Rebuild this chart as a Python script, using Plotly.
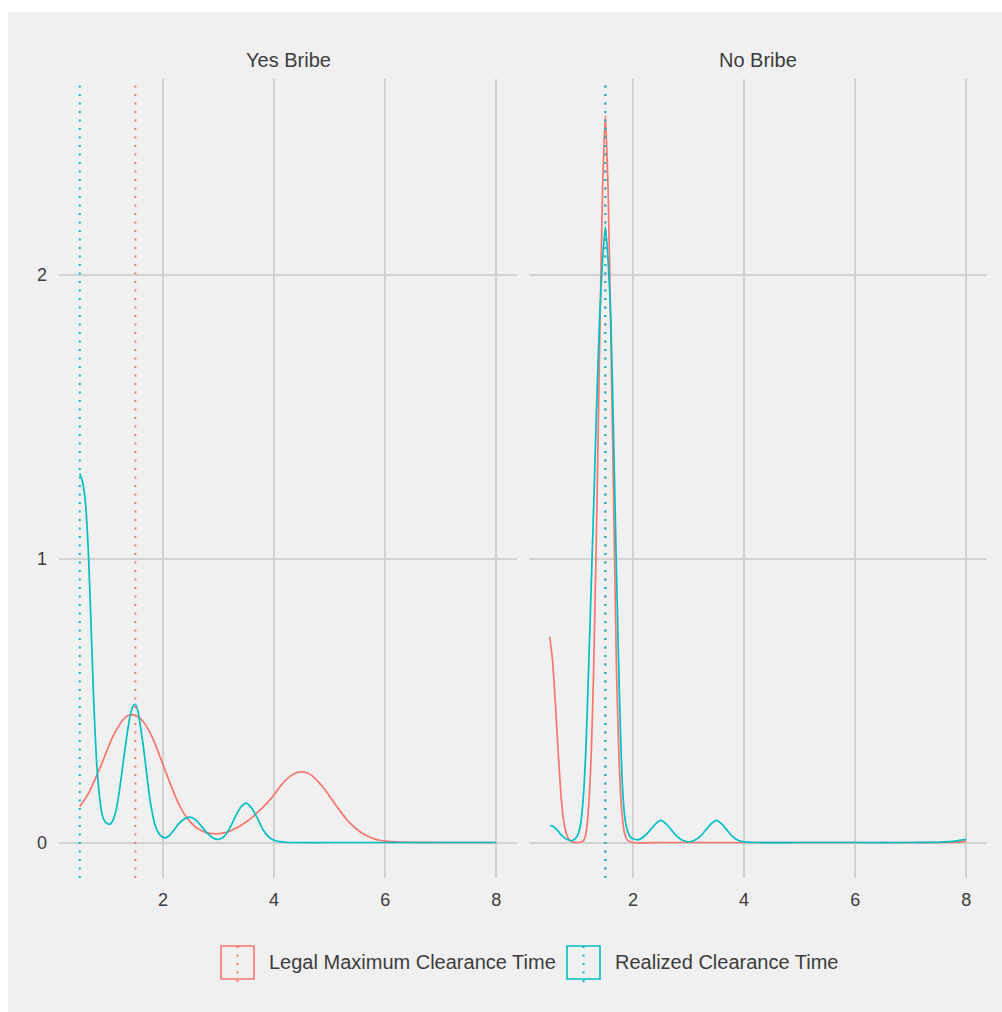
import plotly.graph_objects as go

# ---- density curves: clearance time (x) vs density (y) ----
# Panel "Yes Bribe"
yes_legal_x = [0.5, 0.6, 0.7, 0.8, 0.9, 1.0, 1.1, 1.2, 1.3, 1.4, 1.5, 1.6, 1.7, 1.8, 1.9,
               2.0, 2.1, 2.2, 2.3, 2.4, 2.5, 2.6, 2.7, 2.8, 2.9, 3.0, 3.1, 3.2, 3.3, 3.4,
               3.5, 3.6, 3.7, 3.8, 3.9, 4.0, 4.1, 4.2, 4.3, 4.4, 4.5, 4.6, 4.7, 4.8, 4.9,
               5.0, 5.1, 5.2, 5.3, 5.4, 5.5, 5.6, 5.7, 5.8, 5.9, 6.0, 6.2, 6.5, 7.0, 7.5, 8.0]
yes_legal_y = [0.127, 0.155, 0.19, 0.235, 0.28, 0.33, 0.375, 0.41, 0.437, 0.45, 0.448, 0.435,
               0.41, 0.373, 0.325, 0.273, 0.222, 0.172, 0.128, 0.095, 0.07, 0.052, 0.041,
               0.034, 0.031, 0.031, 0.034, 0.04, 0.049, 0.06, 0.073, 0.088, 0.106, 0.125,
               0.145, 0.168, 0.195, 0.218, 0.235, 0.246, 0.249, 0.245, 0.233, 0.213, 0.19,
               0.163, 0.135, 0.108, 0.083, 0.062, 0.045, 0.031, 0.021, 0.013, 0.008, 0.005,
               0.002, 0.0005, 0.0, 0.0, 0.0]

yes_real_x = [0.5, 0.55, 0.6, 0.65, 0.7, 0.75, 0.8, 0.85, 0.9, 0.95, 1.0, 1.05, 1.1, 1.15,
              1.2, 1.25, 1.3, 1.35, 1.4, 1.45, 1.5, 1.55, 1.6, 1.65, 1.7, 1.75, 1.8, 1.85,
              1.9, 1.95, 2.0, 2.05, 2.1, 2.2, 2.3, 2.4, 2.5, 2.6, 2.7, 2.8, 2.9, 3.0, 3.1,
              3.2, 3.3, 3.4, 3.5, 3.6, 3.7, 3.8, 3.9, 4.0, 4.1, 4.2, 4.4, 5.0, 6.0, 7.0, 8.0]
yes_real_y = [1.30, 1.27, 1.20, 1.04, 0.78, 0.50, 0.29, 0.17, 0.10, 0.075, 0.066, 0.065,
              0.08, 0.11, 0.165, 0.235, 0.31, 0.38, 0.44, 0.478, 0.487, 0.46, 0.40, 0.33,
              0.25, 0.17, 0.11, 0.065, 0.04, 0.025, 0.018, 0.017, 0.022, 0.045, 0.07, 0.085,
              0.089, 0.078, 0.055, 0.032, 0.016, 0.011, 0.022, 0.05, 0.09, 0.125, 0.139,
              0.12, 0.085, 0.045, 0.02, 0.008, 0.003, 0.001, 0.0, 0.0, 0.0, 0.0, 0.0]

# Panel "No Bribe"
no_legal_x = [0.5, 0.55, 0.6, 0.65, 0.7, 0.75, 0.8, 0.85, 0.9, 1.0, 1.1, 1.15, 1.2, 1.25,
              1.3, 1.35, 1.4, 1.45, 1.5, 1.55, 1.6, 1.65, 1.7, 1.75, 1.8, 1.85, 1.9, 2.0,
              2.5, 3.0, 4.0, 5.0, 6.0, 7.0, 7.5, 7.7, 7.9, 8.0]
no_legal_y = [0.725, 0.64, 0.49, 0.32, 0.17, 0.075, 0.03, 0.01, 0.003, 0.0, 0.005, 0.03,
              0.13, 0.33, 0.70, 1.2, 1.78, 2.3, 2.56, 2.3, 1.78, 1.2, 0.62, 0.28, 0.1, 0.03,
              0.008, 0.0, 0.0, 0.0, 0.0, 0.0, 0.0, 0.0, 0.0, 0.0005, 0.002, 0.004]

no_real_x = [0.5, 0.55, 0.6, 0.65, 0.7, 0.75, 0.8, 0.85, 0.9, 0.95, 1.0, 1.05, 1.1, 1.15,
             1.2, 1.25, 1.3, 1.35, 1.4, 1.45, 1.5, 1.55, 1.6, 1.65, 1.7, 1.75, 1.8, 1.85,
             1.9, 1.95, 2.0, 2.1, 2.2, 2.3, 2.4, 2.5, 2.6, 2.7, 2.8, 2.9, 3.0, 3.1, 3.2,
             3.3, 3.4, 3.5, 3.6, 3.7, 3.8, 3.9, 4.0, 4.2, 5.0, 6.0, 7.0, 7.3, 7.5, 7.7,
             7.8, 7.9, 8.0]
no_real_y = [0.06, 0.058, 0.05, 0.04, 0.028, 0.019, 0.012, 0.008, 0.007, 0.012, 0.025, 0.06,
             0.15, 0.33, 0.62, 0.93, 1.25, 1.58, 1.86, 2.05, 2.169, 2.05, 1.84, 1.42, 0.96,
             0.55, 0.23, 0.09, 0.04, 0.02, 0.013, 0.01, 0.022, 0.042, 0.065, 0.078, 0.065,
             0.042, 0.02, 0.007, 0.002, 0.007, 0.02, 0.042, 0.065, 0.078, 0.065, 0.042, 0.02,
             0.007, 0.002, 0.0, 0.0, 0.0, 0.0, 0.0005, 0.001, 0.003, 0.005, 0.008, 0.011]

# Median clearance times (dotted reference lines)
yes_legal_median = 1.5
yes_real_median = 0.5
no_legal_median = 1.5
no_real_median = 1.5

panel_titles = ["Yes Bribe", "No Bribe"]
series_names = ["Legal Maximum Clearance Time", "Realized Clearance Time"]
x_ticks = [2, 4, 6, 8]
y_ticks = [0, 1, 2]

RED = "#F8766D"
TEAL = "#00BFC4"
BG = "#F0F0F0"
GRID = "#D2D2D2"
TXT = "#3C3C3C"
FONT = "Liberation Sans, Arial, Helvetica, sans-serif"
DOTS = "2px,6.5px"

W, H = 1002, 1012


def px(x):
    return x / W


def py(y):
    return 1 - y / H


fig = go.Figure()

panels = [
    ("x", "y", yes_legal_x, yes_legal_y, yes_real_x, yes_real_y, yes_legal_median, yes_real_median),
    ("x2", "y2", no_legal_x, no_legal_y, no_real_x, no_real_y, no_legal_median, no_real_median),
]

for xa, ya, lx, ly, rx, ry, lmed, rmed in panels:
    fig.add_trace(go.Scatter(x=lx, y=ly, xaxis=xa, yaxis=ya, mode="lines",
                             line=dict(color=RED, width=1.7, shape="spline", smoothing=0.6),
                             name=series_names[0], showlegend=False, hoverinfo="skip"))
    fig.add_trace(go.Scatter(x=rx, y=ry, xaxis=xa, yaxis=ya, mode="lines",
                             line=dict(color=TEAL, width=1.7, shape="spline", smoothing=0.6),
                             name=series_names[1], showlegend=False, hoverinfo="skip"))
    for med, col in ((lmed, RED), (rmed, TEAL)):
        fig.add_shape(type="line", xref=xa, yref=f"{ya} domain", x0=med, x1=med, y0=0, y1=1,
                      line=dict(color=col, width=2, dash=DOTS), layer="above")

# plot areas (pixels): panel 1 x 59-517, panel 2 x 529-987, y 79-878
x_range = [0.125, 8.375]
y_range = [-0.125, 2.69]
axis_common = dict(range=x_range, tickvals=x_ticks, showgrid=True, gridcolor=GRID, gridwidth=1.6,
                   zeroline=False, showline=False, ticks="", ticklabelstandoff=9,
                   tickfont=dict(family=FONT, size=18, color=TXT), fixedrange=True)
yaxis_common = dict(range=y_range, tickvals=y_ticks, showgrid=True, gridcolor=GRID, gridwidth=1.6,
                    zeroline=False, showline=False, ticks="",
                    tickfont=dict(family=FONT, size=18, color=TXT), fixedrange=True)

ydom = [py(878), py(79)]
fig.update_layout(
    width=W, height=H, autosize=False,
    margin=dict(l=0, r=0, t=0, b=0),
    paper_bgcolor="white", plot_bgcolor="rgba(0,0,0,0)",
    showlegend=False,
    xaxis=dict(domain=[px(59), px(517)], anchor="y", **axis_common),
    xaxis2=dict(domain=[px(529), px(987)], anchor="y2", **axis_common),
    yaxis=dict(domain=ydom, anchor="x", showticklabels=True, ticklabelstandoff=11, **yaxis_common),
    yaxis2=dict(domain=ydom, anchor="x2", showticklabels=False, **yaxis_common),
)

# grey chart background
fig.add_shape(type="rect", xref="paper", yref="paper", x0=px(8), x1=1, y0=0, y1=py(12),
              fillcolor=BG, line=dict(width=0), layer="below")

# facet strip titles
for title, (a, b) in zip(panel_titles, [(59, 517), (529, 987)]):
    fig.add_annotation(text=title, x=px((a + b) / 2), y=py(60), xref="paper", yref="paper",
                       showarrow=False, xanchor="center", yanchor="middle",
                       font=dict(family=FONT, size=20, color=TXT))

# legend: outlined keys with a dotted centre line, then the label
legend_items = [(221, 267, RED, series_names[0]), (567, 613, TEAL, series_names[1])]
for kx, tx, col, label in legend_items:
    fig.add_shape(type="rect", xref="paper", yref="paper", x0=px(kx), x1=px(kx + 33),
                  y0=py(979), y1=py(946), line=dict(color=col, width=1.6), fillcolor=BG,
                  layer="above")
    fig.add_shape(type="line", xref="paper", yref="paper", x0=px(kx + 16.5), x1=px(kx + 16.5),
                  y0=py(982), y1=py(943), line=dict(color=col, width=2, dash=DOTS),
                  layer="above")
    fig.add_annotation(text=label, x=px(tx), y=py(962), xref="paper", yref="paper",
                       showarrow=False, xanchor="left", yanchor="middle",
                       font=dict(family=FONT, size=20, color=TXT))

fig.write_html("out.html")
